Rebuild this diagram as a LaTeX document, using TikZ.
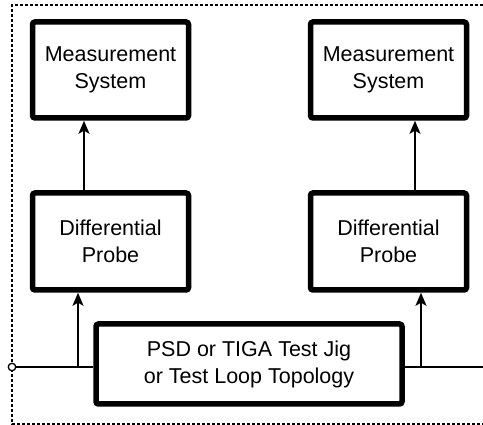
\documentclass[tikz,border=0pt]{standalone}
\usepackage{fontspec}
\setmainfont{Liberation Sans}
\usetikzlibrary{arrows.meta}
\begin{document}
\begin{tikzpicture}[x=1pt,y=-1pt,
  blk/.style={draw, line width=5.5pt, rounded corners=2.5pt, fill=white,
    align=center, font=\fontsize{21.5}{27}\selectfont, inner sep=0pt},
  conn/.style={line width=1.6pt},
  arr/.style={line width=1.6pt, -{Stealth[length=13pt,width=11pt,inset=3pt]}},
  frame/.style={line width=1.4pt, dash pattern=on 3pt off 2pt}]
\useasboundingbox (0,0) rectangle (483,425);
% dashed frame (right side lies outside the picture)
\draw[frame] (483,5) -- (12,5) -- (12,424) -- (483,424);
% boxes
\node[blk, minimum width=156pt, minimum height=96pt] (lm) at (110.5,70) {Measurement\\System};
\node[blk, minimum width=156pt, minimum height=96pt] (rm) at (388.5,70) {Measurement\\System};
\node[blk, minimum width=156pt, minimum height=97pt] (ld) at (110.5,241.5) {Differential\\Probe};
\node[blk, minimum width=156pt, minimum height=97pt] (rd) at (388.5,241.5) {Differential\\Probe};
\node[blk, minimum width=306pt, minimum height=80pt] (jig) at (249,364) {PSD or TIGA Test Jig\\or Test Loop Topology};
% signal line
\node[circle, draw, line width=1.3pt, fill=white, inner sep=0pt, minimum size=7.5pt] (cin) at (12,367) {};
\coordinate (rend) at (483,367);
\coordinate (la) at (78,367);
\coordinate (ra) at (421,367);
\coordinate (lu) at (84,0);
\coordinate (ru) at (415,0);
\draw[conn] (cin.east) -- (cin -| jig.west);
\draw[conn] (rend -| jig.east) -- (rend);
% arrows
\draw[arr] (la) -- (la |- ld.south);
\draw[arr] (ra) -- (ra |- rd.south);
\draw[arr] (lu |- ld.north) -- (lu |- lm.south);
\draw[arr] (ru |- rd.north) -- (ru |- rm.south);
\end{tikzpicture}
\end{document}
